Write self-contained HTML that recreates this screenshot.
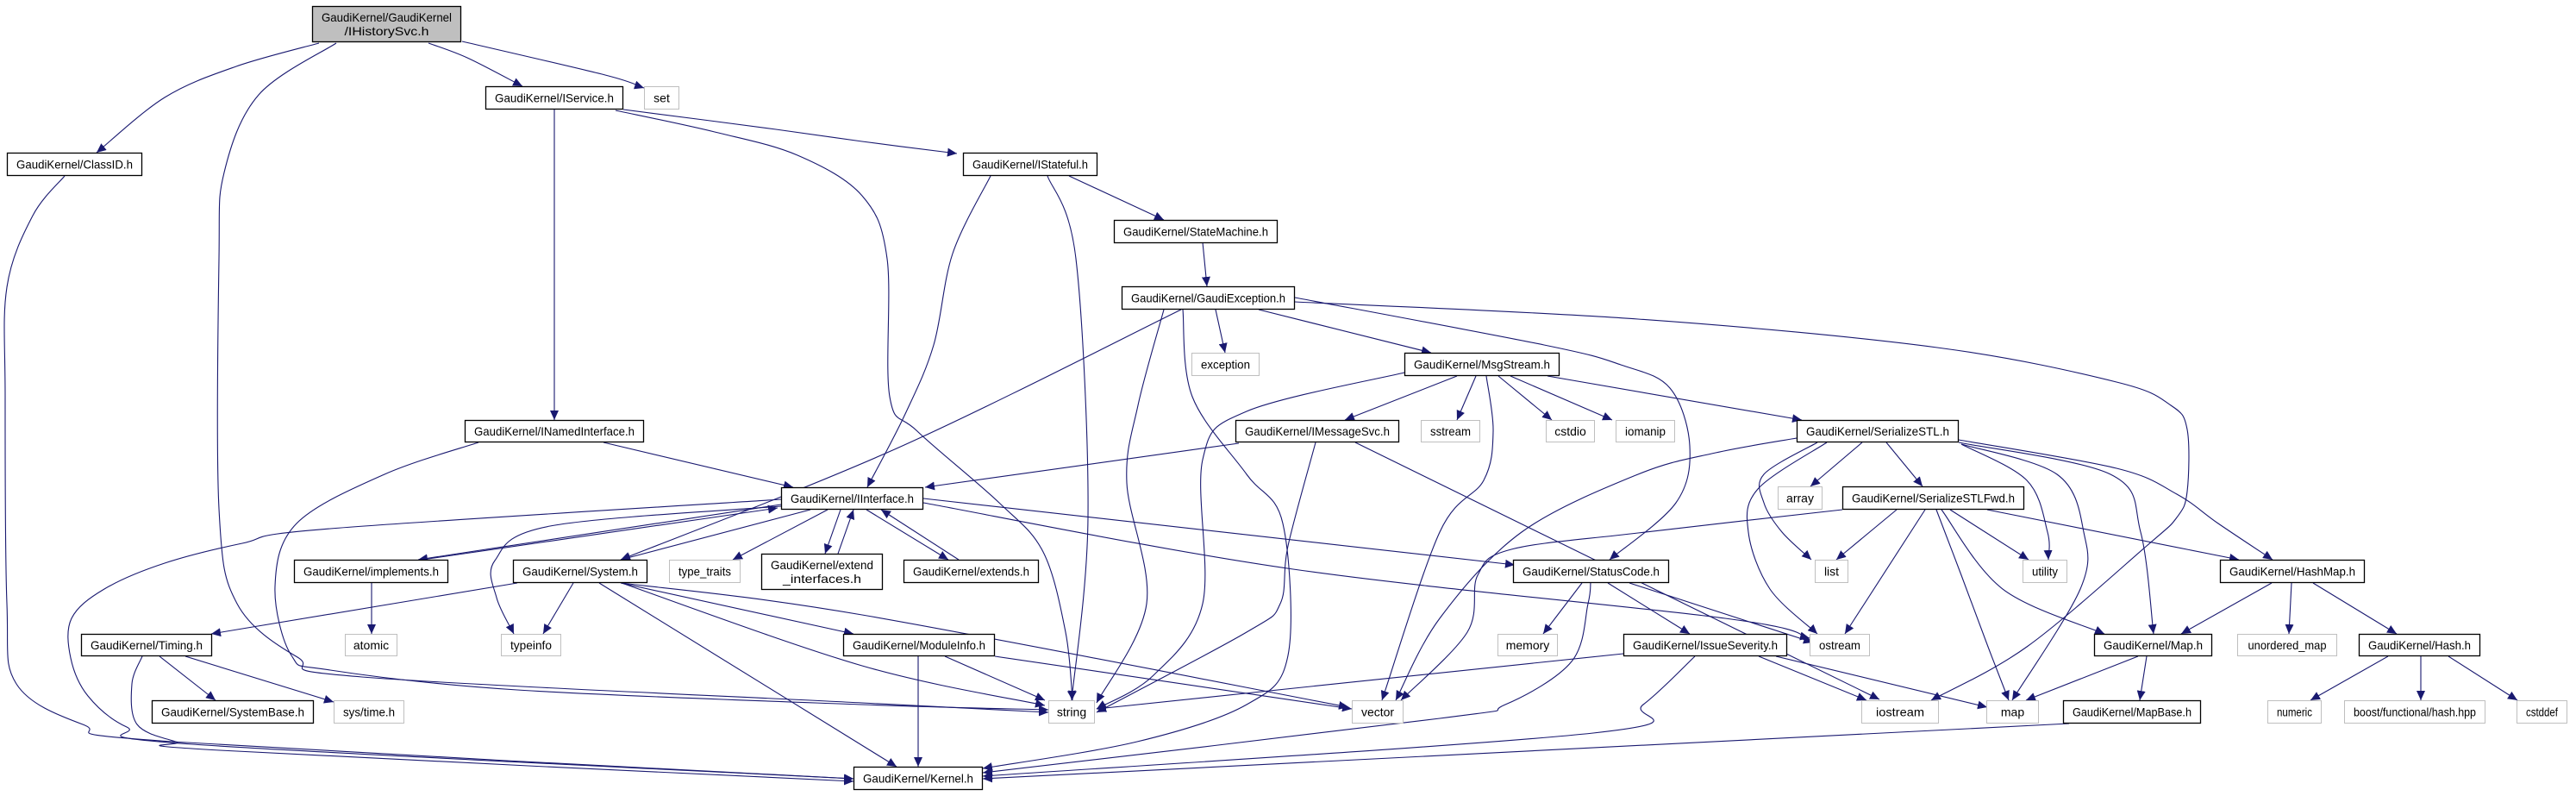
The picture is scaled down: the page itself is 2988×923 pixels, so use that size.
<!DOCTYPE html>
<html><head><meta charset="utf-8">
<style>
html,body{margin:0;padding:0;background:#fff;}
svg{display:block;}
text{font-family:"Liberation Sans",Arial,sans-serif;font-size:14px;fill:#000;}
</style></head>
<body>
<svg id="g" width="2988" height="923" viewBox="0 0 2988 923" xmlns="http://www.w3.org/2000/svg">
<defs>
<marker id="a" markerUnits="userSpaceOnUse" markerWidth="12" markerHeight="10" refX="11" refY="5" orient="auto">
<path d="M0,0 L11,5 L0,10 z" fill="#191970"/>
</marker>
</defs>
<g id="edges" fill="none" stroke="#191970" stroke-width="1.1"></g>
<g id="nodes"></g>
</svg>
<script>
var N=[
["GaudiKernel/GaudiKernel\n/IHistorySvc.h",362,7,173,42,2],
["GaudiKernel/IService.h",563,100,160,27],
["set",747,100,41,27,1],
["GaudiKernel/ClassID.h",8,177,157,27],
["GaudiKernel/IStateful.h",1117,177,156,27],
["GaudiKernel/StateMachine.h",1292,255,190,27],
["GaudiKernel/GaudiException.h",1301,332,201,27],
["exception",1382,409,79,27,1],
["GaudiKernel/MsgStream.h",1629,409,180,27],
["GaudiKernel/INamedInterface.h",539,487,208,26],
["GaudiKernel/IMessageSvc.h",1433,487,190,26],
["sstream",1648,487,69,26,1],
["cstdio",1793,487,57,26,1],
["iomanip",1874,487,69,26,1],
["GaudiKernel/SerializeSTL.h",2084,487,188,26],
["GaudiKernel/IInterface.h",906,565,165,26],
["array",2062,564,52,27,1],
["GaudiKernel/SerializeSTLFwd.h",2137,564,211,27],
["GaudiKernel/implements.h",341,649,179,27],
["GaudiKernel/System.h",595,649,156,27],
["type_traits",776,649,83,27,1],
["GaudiKernel/extend\n_interfaces.h",883,642,141,42],
["GaudiKernel/extends.h",1048,649,157,27],
["GaudiKernel/StatusCode.h",1755,649,181,27],
["list",2105,649,39,27,1],
["utility",2346,649,52,27,1],
["GaudiKernel/HashMap.h",2575,649,168,27],
["GaudiKernel/Timing.h",94,735,152,26],
["atomic",400,735,61,26,1],
["typeinfo",581,735,70,26,1],
["GaudiKernel/ModuleInfo.h",978,735,176,26],
["memory",1737,735,70,26,1],
["GaudiKernel/IssueSeverity.h",1883,735,190,26],
["ostream",2099,735,70,26,1],
["GaudiKernel/Map.h",2429,735,137,26],
["unordered_map",2595,735,116,26,1],
["GaudiKernel/Hash.h",2736,735,141,26],
["GaudiKernel/SystemBase.h",176,812,188,27],
["sys/time.h",387,812,82,27,1],
["string",1216,812,54,27,1],
["vector",1568,812,60,27,1],
["iostream",2159,812,90,27,1],
["map",2304,812,61,27,1],
["GaudiKernel/MapBase.h",2393,812,160,27],
["numeric",2630,812,63,27,1],
["boost/functional/hash.hpp",2719,812,164,27,1],
["cstddef",2919,812,59,27,1],
["GaudiKernel/Kernel.h",990,889,150,27]
];
var E=[
[[370,50],[274,77],[191,113],[112,177]],
[[390,50],[300,110],[260,200],[254,300],[254,590],[275,700],[345,762],[420,785],[1000,815],[1216,826]],
[[497,50],[542,67],[606,100]],
[[536,48],[702,87],[747,102]],
[[75,204],[38,250],[8,333],[6,460],[8,700],[19,793],[96,840],[200,860],[990,903]],
[[643,127],[643,487]],
[[723,127],[900,150],[1000,164],[1110,178]],
[[714,128],[829,153],[925,180],[1000,227],[1029,300],[1032,460],[1064,500],[1159,583],[1210,640],[1236,733],[1244,812]],
[[1149,204],[1105,294],[1083,400],[1050,480],[1006,565]],
[[1215,204],[1248,300],[1262,600],[1243,812]],
[[1240,204],[1350,255]],
[[1395,281],[1400,332]],
[[1410,359],[1421,409]],
[[1460,359],[1660,409]],
[[1350,359],[1320,470],[1307,560],[1330,700],[1272,815]],
[[1370,359],[1040,520],[720,649]],
[[1372,359],[1383,460],[1446,550],[1488,607],[1494,760],[1446,817],[1319,860],[1140,891]],
[[1502,345],[1791,400],[1880,423],[1937,450],[1960,517],[1944,583],[1867,649]],
[[1502,350],[1900,370],[2247,403],[2455,443],[2518,470],[2537,498],[2537,570],[2525,600],[2490,633],[2351,750],[2240,812]],
[[1690,436],[1560,487]],
[[1712,436],[1690,487]],
[[1738,436],[1800,487]],
[[1752,436],[1870,487]],
[[1795,436],[2090,487]],
[[1629,432],[1446,477],[1395,533],[1395,700],[1338,783],[1272,822]],
[[1724,436],[1732,500],[1721,557],[1670,617],[1603,812]],
[[1437,514],[1073,565]],
[[1526,513],[1494,633],[1485,700],[1446,733],[1272,826]],
[[1572,513],[2180,811]],
[[2084,508],[1990,525],[1900,550],[1765,617],[1670,717],[1619,812]],
[[2160,513],[2100,564]],
[[2188,513],[2230,564]],
[[2108,513],[2046,550],[2046,583],[2067,617],[2101,649]],
[[2119,513],[2039,567],[2028,617],[2053,683],[2108,735]],
[[2275,515],[2351,557],[2375,617],[2376,649]],
[[2275,515],[2386,550],[2417,617],[2413,683],[2334,812]],
[[2272,513],[2448,550],[2483,617],[2498,735]],
[[2272,510],[2455,543],[2525,573],[2573,607],[2636,649]],
[[2137,591],[1900,618],[1753,637],[1714,667],[1702,733],[1625,812]],
[[2200,591],[2130,649]],
[[2233,591],[2140,735]],
[[2246,591],[2275,667],[2306,750],[2330,812]],
[[2252,591],[2323,683],[2441,735]],
[[2262,591],[2353,649]],
[[2305,591],[2597,649]],
[[700,513],[920,565]],
[[906,585],[485,649]],
[[490,649],[902,589]],
[[940,591],[720,649]],
[[960,591],[850,649]],
[[975,591],[957,642]],
[[972,642],[990,591]],
[[1005,591],[1100,649]],
[[1112,649],[1022,591]],
[[906,587],[638,610],[574,650],[576,693],[596,735]],
[[1071,578],[1757,655]],
[[1071,583],[1500,660],[2001,717],[2099,740]],
[[906,579],[383,613],[281,630],[191,653],[121,683],[83,717],[82,763],[102,807],[147,843],[223,863],[990,903]],
[[555,513],[446,550],[344,607],[319,680],[338,760],[383,777],[600,800],[1000,817],[1216,823]],
[[600,676],[245,735]],
[[665,676],[630,735]],
[[720,676],[990,735]],
[[721,676],[1000,772],[1212,818]],
[[721,676],[1000,713],[1564,820]],
[[695,676],[1040,889]],
[[1065,761],[1065,889]],
[[1096,761],[1212,812]],
[[1154,761],[1568,822]],
[[165,761],[153,793],[159,840],[204,860],[255,870],[990,906]],
[[185,761],[250,812]],
[[215,761],[387,814]],
[[431,676],[431,735]],
[[1835,676],[1790,735]],
[[1865,676],[1960,735]],
[[1890,676],[2103,745]],
[[1845,676],[1842,700],[1823,767],[1746,817],[1670,833],[1140,896]],
[[1883,758],[1272,822]],
[[1966,761],[1906,817],[1848,850],[1140,900]],
[[2040,761],[2165,812]],
[[2060,761],[2305,820]],
[[2635,676],[2530,735]],
[[2658,676],[2655,735]],
[[2683,676],[2780,735]],
[[2480,761],[2350,812]],
[[2490,761],[2482,812]],
[[2400,839],[1140,903]],
[[2770,761],[2680,812]],
[[2808,761],[2808,812]],
[[2840,761],[2920,812]]
];
function pth(p){
 if(p.length==2)return "M"+p[0][0]+","+p[0][1]+" L"+p[1][0]+","+p[1][1];
 var d="M"+p[0][0]+","+p[0][1];
 for(var i=0;i<p.length-1;i++){
  var p0=p[i-1]||p[i],p1=p[i],p2=p[i+1],p3=p[i+2]||p2;
  var c1=[p1[0]+(p2[0]-p0[0])/6,p1[1]+(p2[1]-p0[1])/6];
  var c2=[p2[0]-(p3[0]-p1[0])/6,p2[1]-(p3[1]-p1[1])/6];
  d+=" C"+c1[0].toFixed(1)+","+c1[1].toFixed(1)+" "+c2[0].toFixed(1)+","+c2[1].toFixed(1)+" "+p2[0]+","+p2[1];
 }
 return d;
}
var ns="http://www.w3.org/2000/svg";
var ge=document.getElementById("edges"),gn=document.getElementById("nodes");
E.forEach(function(p){var e=document.createElementNS(ns,"path");e.setAttribute("d",pth(p));e.setAttribute("marker-end","url(#a)");ge.appendChild(e);});
N.forEach(function(n){
 var r=document.createElementNS(ns,"rect");
 r.setAttribute("x",n[1]+0.5);r.setAttribute("y",n[2]+0.5);r.setAttribute("width",n[3]-1);r.setAttribute("height",n[4]-1);
 r.setAttribute("fill",n[5]==2?"#bfbfbf":"#fff");r.setAttribute("stroke",n[5]==1?"#bfbfbf":"#000");r.setAttribute("stroke-width",n[5]==1?"1":"1.3");
 gn.appendChild(r);
 var lines=n[0].split("\n");
 lines.forEach(function(l,i){
  var t=document.createElementNS(ns,"text");
  var cx=n[1]+n[3]/2;
  var cy=lines.length==1?n[2]+n[4]/2+5:n[2]+(i==0?18:34)+ (n[4]>41?0:0);
  t.setAttribute("x",cx);t.setAttribute("y",cy);t.setAttribute("text-anchor","middle");
  var tl=Math.min(n[3]-22,l.length*7.0);
  if(l.length>6){t.setAttribute("textLength",tl);t.setAttribute("lengthAdjust","spacingAndGlyphs");}
  t.textContent=l;gn.appendChild(t);
 });
});
</script>
</body></html>
